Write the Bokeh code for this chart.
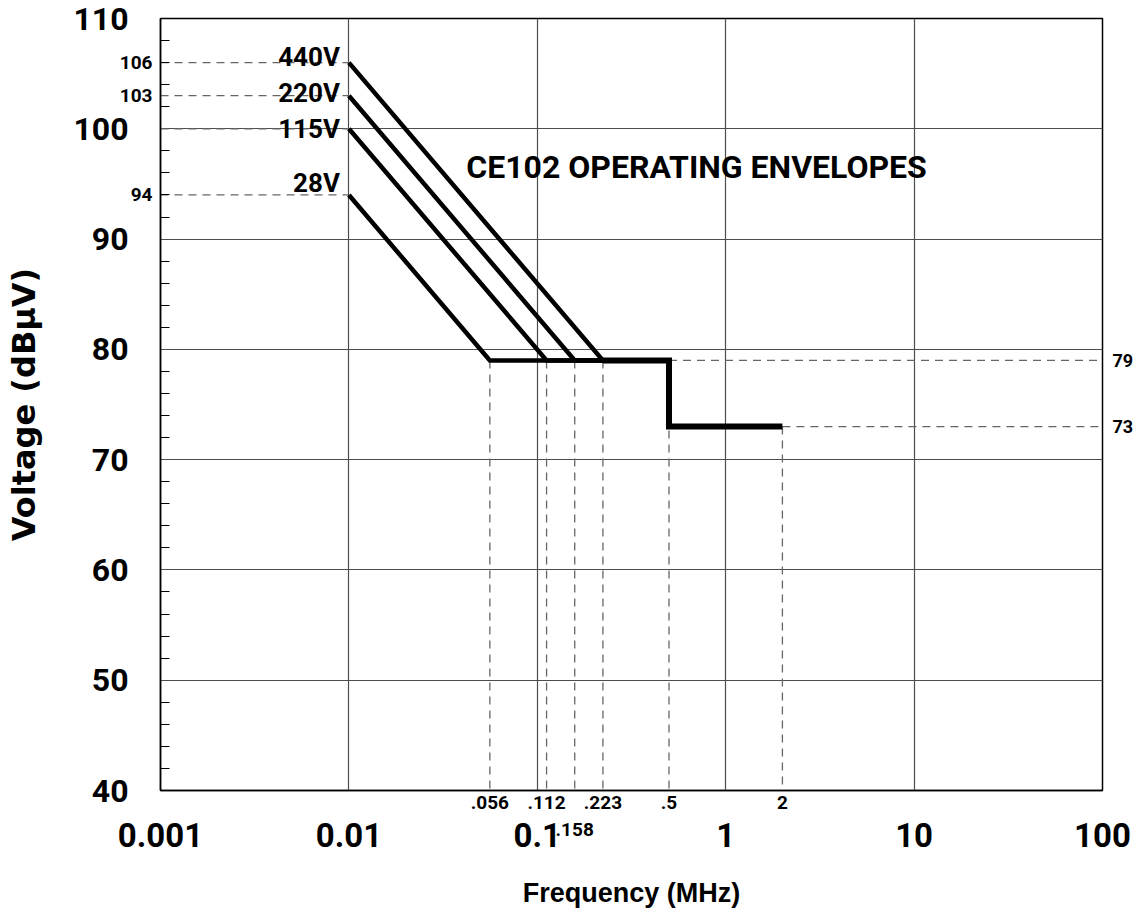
from bokeh.plotting import figure
from bokeh.models import (FixedTicker, Label, CustomJSTickFormatter,
                          LinearAxis, LogAxis)
from bokeh.embed import file_html
from bokeh.resources import INLINE

# ---------------- data ----------------
x_ticks = [0.001, 0.01, 0.1, 1, 10, 100]
x_tick_labels = ["0.001", "0.01", "0.1", "1", "10", "100"]
y_ticks = [40, 50, 60, 70, 80, 90, 100, 110]
y_minor = [42, 44, 46, 48, 52, 54, 56, 58, 62, 64, 66, 68, 72, 74, 76, 78,
           82, 84, 86, 88, 92, 94, 96, 98, 102, 104, 106, 108]

voltages = ["440V", "220V", "115V", "28V"]
start_freq = 0.01
start_level = [106, 103, 100, 94]
start_marks = [106, 103, 94]
start_mark_labels = ["106", "103", "94"]
corner_freq = [0.223, 0.158, 0.112, 0.056]
flat_level = 79
step_freq = 0.5
end_level = 73
end_freq = 2
voltage_label_level = [106.5, 103.2, 100.0, 95.1]

right_marks = [79, 73]
right_mark_labels = ["79", "73"]
bottom_freqs = [0.056, 0.112, 0.223, 0.5, 2]
bottom_labels = [".056", ".112", ".223", ".5", "2"]
offset_freq = [0.158]
offset_label = [".158"]

title_text = "CE102 OPERATING ENVELOPES"
title_pos = (0.042, 96.5)

FONT = "Roboto"


def mapped(vals, labs):
    return CustomJSTickFormatter(
        args=dict(tvals=vals, tlabels=labs),
        code="""
        for (let i = 0; i < tvals.length; i++) {
            if (Math.abs(tvals[i] - tick) <= 1e-6 * Math.abs(tvals[i])) return tlabels[i];
        }
        return "";
        """)


def style_axis(ax, size, standoff, line=False):
    ax.axis_line_color = "black" if line else None
    ax.axis_line_width = 1.5
    ax.major_tick_in = 0
    ax.major_tick_out = 0
    ax.minor_tick_in = 0
    ax.minor_tick_out = 0
    ax.major_label_text_font = FONT
    ax.major_label_text_font_style = "bold"
    ax.major_label_text_font_size = size
    ax.major_label_text_color = "black"
    ax.major_label_standoff = standoff


p = figure(width=1136, height=913, x_axis_type="log",
           x_range=(0.001, 100), y_range=(40, 110),
           output_backend="svg", toolbar_location=None,
           min_border_left=160, min_border_right=33,
           min_border_top=18, min_border_bottom=123)
p.background_fill_color = "white"
p.border_fill_color = "white"
p.outline_line_color = "black"
p.outline_line_width = 1.5
p.outline_line_alpha = 1

# ---- main axes ----
xmain = p.xaxis[0]
ymain = p.yaxis[0]
xmain.ticker = FixedTicker(ticks=x_ticks, minor_ticks=[])
xmain.formatter = mapped(x_ticks, x_tick_labels)
ymain.ticker = FixedTicker(ticks=y_ticks, minor_ticks=[])
style_axis(xmain, "33px", -16)
style_axis(ymain, "32px", -12)
xmain.axis_label = "Frequency (MHz)"
xmain.axis_label_text_font = "Liberation Sans"
xmain.axis_label_text_font_style = "bold"
xmain.axis_label_text_font_size = "27px"
xmain.axis_label_text_color = "black"
xmain.axis_label_standoff = 28
ymain.axis_label = "Voltage (dBµV)"
ymain.axis_label_text_font = "DejaVu Sans"
ymain.axis_label_text_font_style = "bold"
ymain.axis_label_text_font_size = "32px"
ymain.axis_label_text_color = "black"
ymain.axis_label_standoff = 27

# ---- marker axes (small labels next to the frame) ----
y_small = LinearAxis(ticker=FixedTicker(ticks=start_marks, minor_ticks=y_minor),
                     formatter=mapped(start_marks, start_mark_labels))
style_axis(y_small, "19px", 8, line=True)
y_small.minor_tick_in = 9
y_small.minor_tick_line_color = "black"
y_small.minor_tick_line_width = 1.2

x_small = LogAxis(ticker=FixedTicker(ticks=bottom_freqs, minor_ticks=[]),
                  formatter=mapped(bottom_freqs, bottom_labels))
style_axis(x_small, "19px", 5, line=True)

x_small2 = LogAxis(ticker=FixedTicker(ticks=offset_freq, minor_ticks=[]),
                   formatter=mapped(offset_freq, offset_label))
style_axis(x_small2, "19px", 11)

y_right = LinearAxis(ticker=FixedTicker(ticks=right_marks, minor_ticks=[]),
                     formatter=mapped(right_marks, right_mark_labels))
style_axis(y_right, "18px", 10)

p.left = [y_small, ymain]
p.below = [x_small, x_small2, xmain]
p.add_layout(y_right, "right")

# grid
p.xgrid.ticker = FixedTicker(ticks=x_ticks)
p.ygrid.ticker = FixedTicker(ticks=y_ticks)
for g in (p.xgrid[0], p.ygrid[0]):
    g.grid_line_color = "#4d4d4d"
    g.grid_line_width = 1.2
    g.grid_line_alpha = 1

DASH = "8 6"
DCOL = "#666666"

# horizontal dashed reference lines at the start levels (left side)
p.segment(x0=[x_ticks[0]] * len(start_level), y0=start_level,
          x1=[start_freq] * len(start_level), y1=start_level,
          line_color=DCOL, line_width=1.3, line_dash=DASH)
# right-side dashed lines at 79 and 73
p.segment(x0=[step_freq, end_freq], y0=[flat_level, end_level],
          x1=[x_ticks[-1], x_ticks[-1]], y1=[flat_level, end_level],
          line_color=DCOL, line_width=1.3, line_dash=DASH)
# vertical dashed lines down to the x axis
vx = corner_freq + [step_freq, end_freq]
vy = [flat_level] * len(corner_freq) + [flat_level, end_level]
p.segment(x0=vx, y0=vy, x1=vx, y1=[y_ticks[0]] * len(vx),
          line_color=DCOL, line_width=1.3, line_dash=DASH)

# envelopes
for sl, cf in zip(start_level, corner_freq):
    p.line([start_freq, cf, step_freq], [sl, flat_level, flat_level],
           line_color="black", line_width=4.5, line_join="miter")
p.line([max(corner_freq), step_freq, step_freq, end_freq],
       [flat_level, flat_level, end_level, end_level],
       line_color="black", line_width=6, line_join="miter")

# voltage labels
for lv, txt in zip(voltage_label_level, voltages):
    p.add_layout(Label(x=start_freq, y=lv, text=txt, x_offset=-9,
                       text_align="right", text_baseline="middle",
                       text_font=FONT, text_font_style="bold",
                       text_font_size="26px", text_color="black"))
# title inside plot
p.add_layout(Label(x=title_pos[0], y=title_pos[1], text=title_text,
                   text_align="left", text_baseline="middle",
                   text_font=FONT, text_font_style="bold",
                   text_font_size="32px", text_color="black"))

open("out.html", "w").write(file_html(p, INLINE))
